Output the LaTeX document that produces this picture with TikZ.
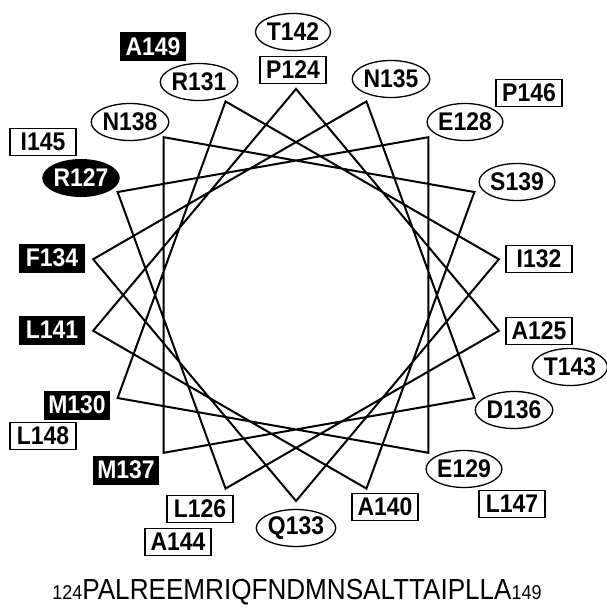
\documentclass[tikz,border=0pt]{standalone}
\usepackage{fontspec}
\setmainfont{Liberation Sans}
\newfontfamily\narrowfont{Liberation Sans}[FakeStretch=0.9]
\usetikzlibrary{shapes.geometric}

\begin{document}
\begin{tikzpicture}[x=1pt,y=-1pt]
\tikzset{lbl/.style={inner sep=0pt,font=\narrowfont\fontsize{25.5}{26}\selectfont\bfseries},
polar/.style={lbl,draw,ellipse,line width=1.3pt,fill=white,minimum width=75pt,minimum height=37pt},
hydro/.style={lbl,draw,rectangle,line width=1.3pt,fill=white,minimum width=66pt,minimum height=27pt},
buried/.style={lbl,rectangle,fill=black,text=white,minimum width=66pt,minimum height=29pt},
charged/.style={lbl,ellipse,fill=black,text=white,minimum width=75pt,minimum height=38pt},
wheel/.style={line width=2pt,line join=miter}}
\useasboundingbox (0,0) rectangle (606,610);
% helix wheel, 100 degrees per residue
\foreach \k in {0,...,17} \path (296,295) ++({100*\k-90}:206) coordinate (v\k);
\draw[wheel] (v0) \foreach \k in {1,...,17}{-- (v\k)} -- cycle;
% residues
\node[polar] (T142) at (293,32) {T142};
\node[hydro] (P124) at (293,70) {P124};
\node[buried] (A149) at (153,47) {A149};
\node[polar] (R131) at (199,82) {R131};
\node[polar] (N135) at (391,79) {N135};
\node[hydro] (P146) at (529,93) {P146};
\node[polar] (N138) at (130,122) {N138};
\node[polar] (E128) at (465,122) {E128};
\node[hydro] (I145) at (43,142) {I145};
\node[charged] (R127) at (81,178) {R127};
\node[polar] (S139) at (517,182) {S139};
\node[buried] (F134) at (52,258) {F134};
\node[hydro] (I132) at (539,259) {I132};
\node[buried] (L141) at (52,330) {L141};
\node[hydro] (A125) at (539,331) {A125};
\node[polar] (T143) at (570,367) {T143};
\node[buried] (M130) at (77,405) {M130};
\node[polar] (D136) at (514,410) {D136};
\node[hydro] (L148) at (43,436) {L148};
\node[buried] (M137) at (126,470) {M137};
\node[polar] (E129) at (464,469) {E129};
\node[hydro] (L147) at (512,504) {L147};
\node[hydro] (L126) at (200,509) {L126};
\node[hydro] (A140) at (385,507) {A140};
\node[polar] (Q133) at (296,528) {Q133};
\node[hydro] (A144) at (178,542) {A144};
% sequence
\node[inner sep=0pt,font=\narrowfont] (seq) at (297,592) {\fontsize{20}{20}\selectfont 124\fontsize{29}{29}\selectfont PALREEMRIQFNDMNSALTTAIPLLA\fontsize{20}{20}\selectfont 149};
\end{tikzpicture}
\end{document}
